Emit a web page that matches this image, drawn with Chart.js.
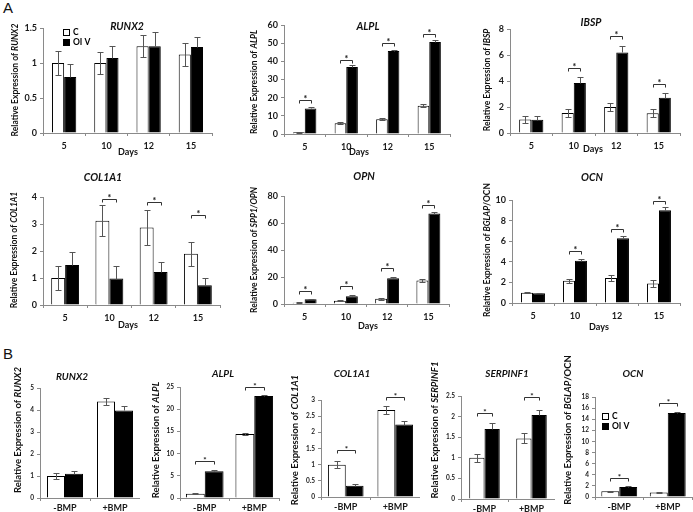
<!DOCTYPE html>
<html>
<head>
<meta charset="utf-8">
<script src="https://cdn.jsdelivr.net/npm/chart.js@4.4.1/dist/chart.umd.min.js"></script>
<style>
  body { margin: 0; width: 693px; height: 512px; background: #fff; position: relative; overflow: hidden; }
  canvas { position: absolute; }
  .letter { position: absolute; font: 15px "Liberation Sans", Arial, sans-serif; color: #111; }
</style>
</head>
<body>
<div class="letter" style="left:3px;top:-1px">A</div>
<div class="letter" style="left:3px;top:345px">B</div>
<script>
const dayLabels = ['5', '10', '12', '15'];
const bmpLabels = ['-BMP', '+BMP'];

// A: time course, C vs OI V
const runx2C = [1.0, 1.0, 1.24, 1.12];
const runx2CErr = [0.17, 0.16, 0.16, 0.16];
const runx2OI = [0.80, 1.07, 1.24, 1.23];
const runx2OIErr = [0.18, 0.17, 0.20, 0.14];
const runx2Sig = [null, null, null, null];

const alplC = [0.9, 5.9, 8.1, 15.5];
const alplCErr = [0.3, 0.6, 0.5, 0.8];
const alplOI = [14.1, 36.9, 45.7, 50.6];
const alplOIErr = [0.8, 0.9, 0.8, 1.0];
const alplSig = [18.7, 40.7, 49.9, 55];

const ibspC = [1.03, 1.54, 2.0, 1.52];
const ibspCErr = [0.25, 0.33, 0.33, 0.32];
const ibspOI = [1.02, 3.85, 6.2, 2.72];
const ibspOIErr = [0.3, 0.45, 0.5, 0.33];
const ibspSig = [null, 5.0, 7.5, 3.77];

const col1a1C = [1.0, 3.12, 2.87, 1.9];
const col1a1CErr = [0.45, 0.57, 0.65, 0.44];
const col1a1OI = [1.48, 0.98, 1.22, 0.73];
const col1a1OIErr = [0.5, 0.47, 0.36, 0.27];
const col1a1Sig = [null, 3.94, 3.81, 3.35];

const opnC = [1.0, 2.5, 3.8, 17.4];
const opnCErr = [0.3, 0.5, 0.6, 0.8];
const opnOI = [3.5, 5.7, 19.1, 67];
const opnOIErr = [0.5, 0.6, 0.8, 1.2];
const opnSig = [9.3, 13, 27, 73.6];

const ocnC = [1.0, 2.15, 2.42, 1.9];
const ocnCErr = [0.05, 0.2, 0.25, 0.3];
const ocnOI = [0.95, 4.1, 6.29, 9.0];
const ocnOIErr = [0.05, 0.15, 0.25, 0.3];
const ocnSig = [null, 5.06, 7.16, 9.9];

// B: -BMP / +BMP
const bRunx2C = [1.0, 4.39];
const bRunx2CErr = [0.12, 0.14];
const bRunx2OI = [1.1, 3.98];
const bRunx2OIErr = [0.15, 0.2];
const bRunx2Sig = [null, null];

const bAlplC = [0.98, 14.4];
const bAlplCErr = [0.1, 0.2];
const bAlplOI = [6.0, 23.0];
const bAlplOIErr = [0.2, 0.3];
const bAlplSig = [8.3, 25.0];

const bCol1a1C = [1.0, 2.69];
const bCol1a1CErr = [0.1, 0.12];
const bCol1a1OI = [0.35, 2.24];
const bCol1a1OIErr = [0.06, 0.12];
const bCol1a1Sig = [1.45, 3.08];

const bSerpC = [1.0, 1.47];
const bSerpCErr = [0.1, 0.12];
const bSerpOI = [1.7, 2.04];
const bSerpOIErr = [0.14, 0.12];
const bSerpSig = [2.08, 2.47];

const bOcnC = [1.03, 0.8];
const bOcnCErr = [0.1, 0.1];
const bOcnOI = [1.8, 15.1];
const bOcnOIErr = [0.1, 0.2];
const bOcnSig = [3.45, 16.9];

const REL = 'Relative Expression of ';
const FONT = 'Lato, "Open Sans", sans-serif';
const AX = '#8a8a8a';

// box = [x, y, w, h] on page, area = chart area on page
const panels = [
  { box: [0, 0, 231, 170], area: { l: 43, r: 212, t: 28, b: 133 }, labels: dayLabels,
    c: runx2C, cErr: runx2CErr, oi: runx2OI, oiErr: runx2OIErr, sig: runx2Sig,
    yMax: 1.5, step: 0.5, title: 'RUNX2', titleAt: [127, 27], ylab: [[REL, false], ['RUNX2', true]], ylabAt: [15, 80],
    days: [128, 152], legend: [63, 29], cat: 0.575 },
  { box: [231, 0, 231, 170], area: { l: 284, r: 450, t: 25, b: 134 }, labels: dayLabels,
    c: alplC, cErr: alplCErr, oi: alplOI, oiErr: alplOIErr, sig: alplSig,
    yMax: 60, step: 10, title: 'ALPL', titleAt: [368, 27], ylab: [[REL, false], ['ALPL', true]], ylabAt: [254, 82],
    days: [359, 152], cat: 0.56 },
  { box: [462, 0, 231, 170], area: { l: 510, r: 680, t: 29, b: 133 }, labels: dayLabels,
    c: ibspC, cErr: ibspCErr, oi: ibspOI, oiErr: ibspOIErr, sig: ibspSig,
    yMax: 8, step: 1, title: 'IBSP', titleAt: [591, 23], ylab: [[REL, false], ['IBSP', true]], ylabAt: [487, 80],
    days: [593, 149], cat: 0.57 },
  { box: [0, 170, 231, 170], area: { l: 43, r: 220, t: 197, b: 305 }, labels: dayLabels,
    c: col1a1C, cErr: col1a1CErr, oi: col1a1OI, oiErr: col1a1OIErr, sig: col1a1Sig,
    yMax: 4, step: 1, title: 'COL1A1', titleAt: [103, 178], ylab: [[REL, false], ['COL1A1', true]], ylabAt: [14, 250],
    days: [128, 325], cat: 0.63 },
  { box: [231, 170, 231, 170], area: { l: 284, r: 449, t: 196, b: 304 }, labels: dayLabels,
    c: opnC, cErr: opnCErr, oi: opnOI, oiErr: opnOIErr, sig: opnSig,
    yMax: 80, step: 10, title: 'OPN', titleAt: [364, 177], ylab: [[REL, false], ['SPP1/OPN', true]], ylabAt: [254, 250],
    days: [368, 326], cat: 0.58 },
  { box: [462, 170, 231, 170], area: { l: 512, r: 680, t: 200, b: 303 }, labels: dayLabels,
    c: ocnC, cErr: ocnCErr, oi: ocnOI, oiErr: ocnOIErr, sig: ocnSig,
    yMax: 10, step: 2, title: 'OCN', titleAt: [592, 178], ylab: [[REL, false], ['BGLAP', true], ['/OCN', false]], ylabAt: [487, 250],
    days: [599, 327], cat: 0.57 },
  { box: [0, 345, 140, 167], area: { l: 40, r: 140, t: 388, b: 498 }, labels: bmpLabels,
    c: bRunx2C, cErr: bRunx2CErr, oi: bRunx2OI, oiErr: bRunx2OIErr, sig: bRunx2Sig,
    yMax: 5, step: 1, title: 'RUNX2', titleAt: [72, 377], ylab: [[REL, false], ['RUNX2', true]], ylabAt: [18, 430],
    cat: 0.72, small: true },
  { box: [140, 345, 140, 167], area: { l: 180, r: 279, t: 387, b: 498 }, labels: bmpLabels,
    c: bAlplC, cErr: bAlplCErr, oi: bAlplOI, oiErr: bAlplOIErr, sig: bAlplSig,
    yMax: 25, step: 5, title: 'ALPL', titleAt: [223, 374], ylab: [[REL, false], ['ALPL', true]], ylabAt: [156, 440],
    cat: 0.76, small: true },
  { box: [280, 345, 140, 167], area: { l: 321, r: 420, t: 400, b: 497 }, labels: bmpLabels,
    c: bCol1a1C, cErr: bCol1a1CErr, oi: bCol1a1OI, oiErr: bCol1a1OIErr, sig: bCol1a1Sig,
    yMax: 3, step: 0.5, title: 'COL1A1', titleAt: [352, 374], ylab: [[REL, false], ['COL1A1', true]], ylabAt: [295, 440],
    cat: 0.72, small: true },
  { box: [420, 345, 135, 167], area: { l: 461, r: 555, t: 396, b: 499 }, labels: bmpLabels,
    c: bSerpC, cErr: bSerpCErr, oi: bSerpOI, oiErr: bSerpOIErr, sig: bSerpSig,
    yMax: 2.5, step: 0.5, title: 'SERPINF1', titleAt: [507, 374], ylab: [[REL, false], ['SERPINF1', true]], ylabAt: [435, 430],
    cat: 0.65, small: true },
  { box: [555, 345, 138, 167], area: { l: 595, r: 692, t: 397, b: 497 }, labels: bmpLabels,
    c: bOcnC, cErr: bOcnCErr, oi: bOcnOI, oiErr: bOcnOIErr, sig: bOcnSig,
    yMax: 18, step: 2, title: 'OCN', titleAt: [633, 374], ylab: [[REL, false], ['BGLAP', true], ['/OCN', false]], ylabAt: [568, 430],
    legend: [602, 413], cat: 0.74, small: true }
];

const decor = {
  id: 'decor',
  afterDatasetsDraw(chart) {
    const p = chart.options.plugins.decor.panel;
    const ctx = chart.ctx, y = chart.scales.y;
    const cap = 3;
    ctx.save();
    ctx.lineWidth = 1;
    // error bars
    chart.data.datasets.forEach((ds, di) => {
      chart.getDatasetMeta(di).data.forEach((bar, i) => {
        const v = ds.data[i], e = ds.errs[i];
        const x = Math.round(bar.x) + 0.5;
        const yTop = Math.round(y.getPixelForValue(v + e)) + 0.5;
        const yBot = Math.round(y.getPixelForValue(di === 0 ? v - e : v)) + 0.5;
        ctx.strokeStyle = '#555';
        ctx.beginPath();
        ctx.moveTo(x, yTop); ctx.lineTo(x, yBot);
        ctx.moveTo(x - cap, yTop); ctx.lineTo(x + cap, yTop);
        if (di === 0) { ctx.moveTo(x - cap, yBot); ctx.lineTo(x + cap, yBot); }
        ctx.stroke();
      });
    });
    // significance brackets
    const m0 = chart.getDatasetMeta(0), m1 = chart.getDatasetMeta(1);
    p.sig.forEach((lvl, i) => {
      if (lvl == null) return;
      const x0 = Math.round(m0.data[i].x) + 0.5, x1 = Math.round(m1.data[i].x) + 0.5;
      const yy = Math.round(y.getPixelForValue(lvl)) + 0.5;
      ctx.strokeStyle = '#333';
      ctx.beginPath();
      ctx.moveTo(x0, yy + 3); ctx.lineTo(x0, yy); ctx.lineTo(x1, yy); ctx.lineTo(x1, yy + 3);
      ctx.stroke();
      ctx.fillStyle = '#111';
      ctx.font = 'bold ' + (p.small ? 8 : 9) + 'px ' + FONT;
      ctx.textAlign = 'center';
      ctx.textBaseline = 'alphabetic';
      ctx.fillText('*', (x0 + x1) / 2, yy + 1);
    });
    ctx.restore();
  },
  afterDraw(chart) {
    const p = chart.options.plugins.decor.panel;
    const ctx = chart.ctx, ox = p.box[0], oy = p.box[1];
    ctx.save();
    ctx.fillStyle = '#111';
    ctx.textBaseline = 'middle';
    // title
    ctx.textAlign = 'center';
    ctx.font = 'italic bold ' + (p.small ? 10 : 10.5) + 'px ' + FONT;
    ctx.fillText(p.title, p.titleAt[0] - ox, p.titleAt[1] - oy);
    // y axis label with italic gene names
    const fs = p.small ? 9.5 : 8.5;
    const fonts = p.ylab.map(s => (s[1] ? 'italic ' : '') + 'bold ' + fs + 'px ' + FONT);
    let total = 0;
    const widths = p.ylab.map((s, k) => { ctx.font = fonts[k]; const w = ctx.measureText(s[0]).width; total += w; return w; });
    ctx.save();
    ctx.translate(p.ylabAt[0] - ox, p.ylabAt[1] - oy);
    ctx.rotate(-Math.PI / 2);
    ctx.textAlign = 'left';
    let xx = -total / 2;
    p.ylab.forEach((s, k) => { ctx.font = fonts[k]; ctx.fillText(s[0], xx, 0); xx += widths[k]; });
    ctx.restore();
    // x axis title
    if (p.days) {
      ctx.textAlign = 'center';
      ctx.font = 'bold 9px ' + FONT;
      ctx.fillText('Days', p.days[0] - ox, p.days[1] - oy);
    }
    // legend
    if (p.legend) {
      const lx = p.legend[0] - ox, ly = p.legend[1] - oy;
      ctx.lineWidth = 1;
      ctx.strokeStyle = '#000';
      ctx.fillStyle = '#fff';
      ctx.fillRect(lx, ly, 6, 6);
      ctx.strokeRect(lx + 0.5, ly + 0.5, 6, 6);
      ctx.fillStyle = '#000';
      ctx.fillRect(lx, ly + 10, 7, 7);
      ctx.font = 'bold 8.5px ' + FONT;
      ctx.textAlign = 'left';
      ctx.fillText('C', lx + 10, ly + 3.5);
      ctx.fillText('OI V', lx + 10, ly + 13.5);
    }
    ctx.restore();
  }
};

panels.forEach(p => {
  const cv = document.createElement('canvas');
  cv.width = p.box[2];
  cv.height = p.box[3];
  cv.style.left = p.box[0] + 'px';
  cv.style.top = p.box[1] + 'px';
  document.body.appendChild(cv);
  const tickFont = { family: FONT, weight: 'bold', size: p.small ? 6.5 : 9 };
  new Chart(cv.getContext('2d'), {
    type: 'bar',
    data: {
      labels: p.labels,
      datasets: [
        { label: 'C', data: p.c, errs: p.cErr, backgroundColor: '#fff', borderColor: '#000', borderWidth: 1,
          categoryPercentage: p.cat, barPercentage: 1 },
        { label: 'OI V', data: p.oi, errs: p.oiErr, backgroundColor: '#000', borderColor: '#000', borderWidth: 1,
          categoryPercentage: p.cat, barPercentage: 1 }
      ]
    },
    options: {
      responsive: false,
      animation: false,
      devicePixelRatio: 1,
      layout: { padding: { left: 0, top: p.area.t - p.box[1], right: p.box[0] + p.box[2] - p.area.r, bottom: 0 } },
      plugins: { legend: { display: false }, tooltip: { enabled: false }, decor: { panel: p } },
      scales: {
        x: {
          grid: { drawOnChartArea: false, tickLength: 3, color: AX },
          border: { color: AX },
          ticks: { font: { family: FONT, weight: 'bold', size: 9 }, color: '#1a1a1a',
                   padding: p.small ? 2 : 5, maxRotation: 0, autoSkip: false },
          afterFit(s) { s.height = p.box[1] + p.box[3] - p.area.b; }
        },
        y: {
          min: 0, max: p.yMax,
          grid: { drawOnChartArea: false, tickLength: 3, color: AX },
          border: { color: AX },
          ticks: { stepSize: p.step, font: tickFont, color: '#1a1a1a', padding: 3,
                   callback: v => String(+v.toFixed(2)) },
          afterFit(s) { s.width = p.area.l - p.box[0]; }
        }
      }
    },
    plugins: [decor]
  });
});
</script>
</body>
</html>
